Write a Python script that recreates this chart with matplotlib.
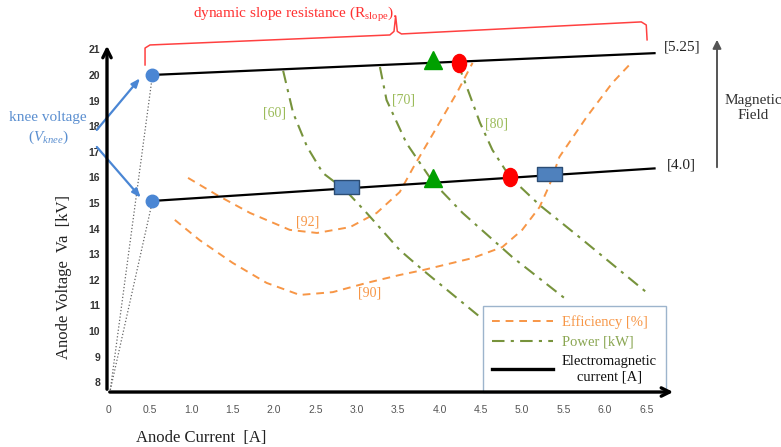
import numpy as np
import matplotlib
matplotlib.use('Agg')
import matplotlib.pyplot as plt
from matplotlib.path import Path
from matplotlib.transforms import Affine2D
from matplotlib.lines import Line2D

plt.rcParams['font.family'] = ['Liberation Serif', 'DejaVu Serif']
plt.rcParams['mathtext.fontset'] = 'custom'
plt.rcParams['mathtext.rm'] = 'Liberation Serif'
plt.rcParams['mathtext.it'] = 'Liberation Serif:italic'

# efficiency contours [%]
eff92_x = [0.96, 1.31, 1.71, 2.19, 2.52, 2.92, 3.24, 3.52, 3.68, 3.97, 4.21, 4.40]
eff92_y = [15.98, 15.31, 14.61, 13.95, 13.83, 14.06, 14.61, 15.43, 16.37, 17.97, 19.30, 20.47]
eff90_x = [0.80, 1.10, 1.50, 1.91, 2.31, 2.71, 3.12, 3.52, 3.80, 4.40, 4.76, 5.00, 5.21, 5.33, 5.45, 5.78, 6.09, 6.33]
eff90_y = [14.34, 13.55, 12.66, 11.88, 11.41, 11.52, 11.88, 12.19, 12.38, 12.85, 13.28, 13.95, 14.84, 15.70, 16.80, 18.36, 19.69, 20.51]

# power contours [kW]
pow60_x = [2.11, 2.23, 2.40, 2.59, 2.86, 3.12, 3.52, 3.80, 4.49]
pow60_y = [20.16, 18.52, 17.19, 16.17, 15.51, 14.61, 13.16, 12.38, 10.55]
pow70_x = [3.28, 3.36, 3.60, 3.92, 4.28, 4.88, 5.51]
pow70_y = [20.31, 19.02, 17.34, 15.82, 14.61, 12.89, 11.29]
pow80_x = [4.22, 4.33, 4.49, 4.64, 4.85, 5.21, 5.69, 6.50]
pow80_y = [20.47, 19.53, 18.13, 17.07, 16.02, 14.92, 13.67, 11.52]

# electromagnetic current lines
em_x = [0.53, 6.60]
em525_y = [20.00, 20.85]
em40_y = [15.08, 16.35]
origin = (0.02, 7.70)

# operating points
knee_x = [0.53, 0.53]
knee_y = [20.00, 15.08]
tri_x = [3.92, 3.92]
tri_y = [20.60, 15.98]
red_x = [4.23, 4.85]
red_y = [20.47, 16.02]
rect_x = [2.87, 5.32]
rect_y = [15.63, 16.13]

xticks = [0, 0.5, 1.0, 1.5, 2.0, 2.5, 3.0, 3.5, 4.0, 4.5, 5.0, 5.5, 6.0, 6.5]
xticklabels = ['0', '0.5', '1.0', '1.5', '2.0', '2.5', '3.0', '3.5', '4.0', '4.5', '5.0', '5.5', '6.0', '6.5']
yticks = list(range(8, 22))

orange = '#f79646'
green = '#77933c'
green_txt = '#9bbb59'
blue = '#4a86d4'

fig = plt.figure(figsize=(7.81, 4.47), dpi=100)
ax = fig.add_axes([0.137, 0.123, 0.7286, 0.781])
ax.set_xlim(-0.02, 6.86)
ax.set_ylim(7.62, 21.25)
for s in ax.spines.values():
    s.set_visible(False)

# axes as arrows
ax.annotate('', xy=(1.0, 0), xytext=(0, 0), xycoords='axes fraction', zorder=10,
            arrowprops=dict(arrowstyle='->,head_length=0.6,head_width=0.3', lw=2.4, color='black'))
ax.annotate('', xy=(0, 1.0), xytext=(0, 0), xycoords='axes fraction', zorder=10,
            arrowprops=dict(arrowstyle='->,head_length=0.6,head_width=0.3', lw=2.4, color='black'))

ax.set_xticks(xticks)
ax.set_xticklabels(xticklabels, fontsize=7.5, color='#555555', family='Liberation Sans')
ax.set_yticks(yticks)
ax.set_yticklabels([str(v) for v in yticks], fontsize=7.5, fontweight='bold', color='#333333', family='Liberation Sans')
ax.tick_params(axis='both', length=0)
ax.tick_params(axis='x', pad=9)
ax.tick_params(axis='y', pad=5)

ax.set_xlabel('Anode Current  [A]', fontsize=12, color='#222222')
ax.xaxis.set_label_coords(0.165, -0.108)
ax.set_ylabel('Anode Voltage  Va  [kV]', fontsize=12, color='#222222')
ax.yaxis.set_label_coords(-0.062, 0.33)

# dotted lines from origin to knee points
for kx, ky in zip(knee_x, knee_y):
    ax.plot([origin[0], kx], [origin[1], ky], ls=':', lw=0.9, color='#666666', zorder=2)

# efficiency
dash = (0, (4, 3))
ax.plot(eff92_x, eff92_y, ls=dash, lw=1.4, color=orange, label='Efficiency [%]')
ax.plot(eff90_x, eff90_y, ls=dash, lw=1.4, color=orange)

# power
dashdot = (0, (6, 3, 1.5, 3))
ax.plot(pow60_x, pow60_y, ls=dashdot, lw=1.5, color=green, label='Power [kW]')
ax.plot(pow70_x, pow70_y, ls=dashdot, lw=1.5, color=green)
ax.plot(pow80_x, pow80_y, ls=dashdot, lw=1.5, color=green)

# electromagnetic current
ax.plot(em_x, em525_y, color='black', lw=1.6, label='Electromagnetic\ncurrent [A]', zorder=3)
ax.plot(em_x, em40_y, color='black', lw=1.6, zorder=3)

# markers
ell = Path.unit_circle().transformed(Affine2D().scale(0.78, 1.0))
rect = Path([(-1, -0.55), (1, -0.55), (1, 0.55), (-1, 0.55), (-1, -0.55)],
            [Path.MOVETO, Path.LINETO, Path.LINETO, Path.LINETO, Path.CLOSEPOLY])
ax.plot(knee_x, knee_y, 'o', ms=9, color=blue, zorder=5, clip_on=False)
ax.plot(tri_x, tri_y, '^', ms=13, color='#00a000', zorder=5)
ax.plot(red_x, red_y, marker=ell, ls='none', ms=13, color='#ff0000', zorder=5)
ax.plot(rect_x, rect_y, marker=rect, ls='none', ms=18, mfc='#4f81bd', mec='#2c4d75', mew=1, zorder=5)

# contour labels
for txt, x, y in [('[60]', 2.01, 18.52), ('[70]', 3.56, 19.02), ('[80]', 4.69, 18.09)]:
    ax.text(x, y, txt, color=green_txt, fontsize=10, ha='center', va='center')
for txt, x, y in [('[92]', 2.40, 14.26), ('[90]', 3.16, 11.48)]:
    ax.text(x, y, txt, color=orange, fontsize=10, ha='center', va='center')

# field labels
ax.text(6.93, 21.09, '[5.25]', fontsize=11, ha='center', va='center', color='#222222', clip_on=False)
ax.text(6.93, 16.48, '[4.0]', fontsize=11, ha='center', va='center', color='#222222', clip_on=False)

# brace for dynamic slope resistance
bx = [0.44, 0.44, 0.50, 3.40, 3.45, 3.47, 3.49, 3.54, 6.44, 6.50, 6.51]
by = [20.39, 21.05, 21.17, 21.56, 21.70, 22.30, 21.70, 21.60, 22.07, 21.95, 21.37]
ax.plot(bx, by, color='#ff4040', lw=1.1, clip_on=False)
fig.text(295 / 781, 1 - 15 / 447, 'dynamic slope resistance (R$_{\\mathrm{slope}}$).',
         color='#ff3030', fontsize=11, ha='center', va='center')

# knee voltage annotation
fig.text(48 / 781, 1 - 118 / 447, 'knee voltage', color='#5b8fd0', fontsize=11, ha='center', va='center')
fig.text(48 / 781, 1 - 137 / 447, '($V_{knee}$)', color='#5b8fd0', fontsize=11, ha='center', va='center')
ax.annotate('', xy=(0.40, 19.95), xytext=(-0.165, 17.77), annotation_clip=False,
            arrowprops=dict(arrowstyle='-|>,head_length=0.5,head_width=0.2', lw=1.6, color=blue))
ax.annotate('', xy=(0.41, 15.13), xytext=(-0.165, 17.27), annotation_clip=False,
            arrowprops=dict(arrowstyle='-|>,head_length=0.5,head_width=0.2', lw=1.6, color=blue))

# magnetic field arrow
fig.patches.append(matplotlib.patches.FancyArrowPatch(
    (717 / 781, 1 - 170 / 447), (717 / 781, 1 - 37 / 447), transform=fig.transFigure,
    arrowstyle='-|>,head_length=5,head_width=2.5', lw=1.4, color='#555555'))
fig.text(753 / 781, 1 - 108 / 447, 'Magnetic\nField', fontsize=11, ha='center', va='center',
         color='#333333', linespacing=1.2)

leg = ax.legend(loc='lower left', bbox_to_anchor=(0.661, 0.0), borderaxespad=0, fontsize=10.5,
                handlelength=4.2, handletextpad=0.6, labelspacing=0.45, borderpad=0.6,
                fancybox=False, framealpha=1, edgecolor='#9db4cc',
                labelcolor=[orange, '#8aa652', '#111111'])
leg.set_zorder(6)
leg.get_frame().set_linewidth(1.0)
leg.get_texts()[2].set_multialignment('center')
leg.get_lines()[2].set_linewidth(2.4)

fig.savefig('out.png', dpi=100)
